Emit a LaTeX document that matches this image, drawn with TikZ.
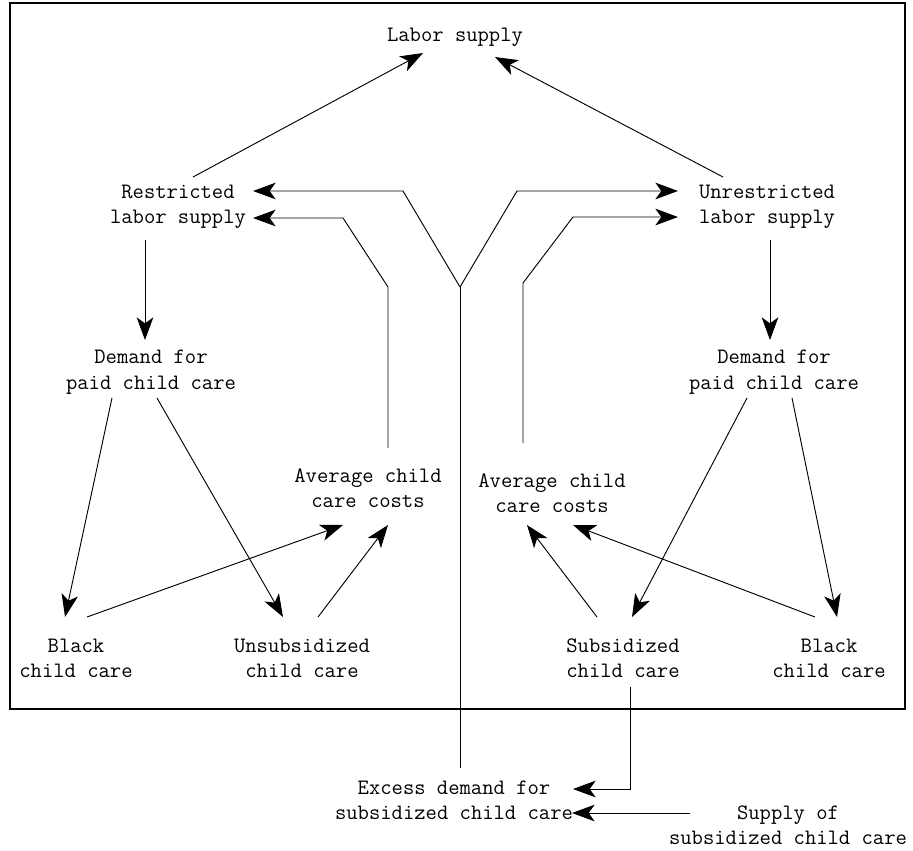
\documentclass[tikz,border=0pt]{standalone}
\usetikzlibrary{calc,arrows.meta}

\begin{document}
\begin{tikzpicture}[
    x=0.75pt, y=-0.75pt,
    font=\ttfamily\fontsize{16.5}{19}\selectfont,
    >={Stealth[length=17pt,width=12.5pt,inset=4.5pt]}
  ]

  % Styles
  \tikzset{
    term/.style={align=center, inner sep=0pt},
    link/.style={->, line width=0.7pt},
    wire/.style={line width=0.7pt}
  }

  \useasboundingbox (0,0) rectangle (913,850);

  % Frame round the household part
  \draw[line width=1.6pt] (10,3) rectangle (905,709);

  % Top and labor supply choices
  \node (labor) [term] at (455,37)  {Labor supply};
  \node (restr) [term] at (178,207) {Restricted\\labor supply};
  \node (unres) [term] at (767,207) {Unrestricted\\labor supply};

  % Demand for paid care
  \node (demL) [term] at (151,372) {Demand for\\paid child care};
  \node (demR) [term] at (774,372) {Demand for\\paid child care};

  % Costs
  \node (avgL) [term] at (368,488) {Average child\\care costs};
  \node (avgR) [term] at (552,493) {Average child\\care costs};

  % Kinds of child care
  \node (blackL) [term] at (76,658)  {Black\\child care};
  \node (unsub)  [term] at (302,658) {Unsubsidized\\child care};
  \node (subs)   [term] at (623,658) {Subsidized\\child care};
  \node (blackR) [term] at (829,658) {Black\\child care};

  % Market for subsidized care
  \node (excess) [term] at (454,800) {Excess demand for\\subsidized child care};
  \node (supply) [term] at (788,825) {Supply of\\subsidized child care};

  \coordinate (fork) at (460,287);

  % Up to labor supply
  \draw[link] ($(restr)+(15,-30)$) -- ($(labor)+(-32,16)$);
  \draw[link] ($(unres)+(-44,-30)$) -- ($(labor)+(40,20)$);

  % Down to demand
  \draw[link] ($(restr)+(-33,33)$) -- ($(demL)+(-6,-32)$);
  \draw[link] ($(unres)+(3,33)$) -- ($(demR)+(-4,-32)$);

  % Demand to kinds of care
  \draw[link] ($(demL)+(-39,26)$) -- ($(blackL)+(-11,-41)$);
  \draw[link] ($(demL)+(6,26)$) -- ($(unsub)+(-19,-41)$);
  \draw[link] ($(demR)+(-27,26)$) -- ($(subs)+(9,-41)$);
  \draw[link] ($(demR)+(18,26)$) -- ($(blackR)+(8,-41)$);

  % Kinds of care to costs
  \draw[link] ($(blackL)+(11,-41)$) -- ($(avgL)+(-25,37)$);
  \draw[link] ($(unsub)+(16,-41)$) -- ($(avgL)+(20,37)$);
  \draw[link] ($(subs)+(-26,-41)$) -- ($(avgR)+(-25,32)$);
  \draw[link] ($(blackR)+(-14,-41)$) -- ($(avgR)+(21,32)$);

  % Costs back to labor supply
  \draw[link] ($(avgL)+(20,-40)$) -- (388,287) -- (343,218) -- ($(restr)+(75,11)$);
  \draw[link] ($(avgR)+(-29,-50)$) -- (523,283) -- (573,217) -- ($(unres)+(-89,10)$);

  % Excess demand splits to both choices
  \draw[wire] ($(excess)+(6,-32)$) -- (fork);
  \draw[link] (fork) -- (403,191) -- ($(restr)+(75,-16)$);
  \draw[link] (fork) -- (517,191) -- ($(unres)+(-89,-16)$);

  % Into excess demand
  \draw[link] ($(subs)+(7,29)$) |- ($(excess)+(119,-11)$);
  \draw[link] ($(supply)+(-98,-12)$) -- ($(excess)+(118,13)$);

\end{tikzpicture}
\end{document}
